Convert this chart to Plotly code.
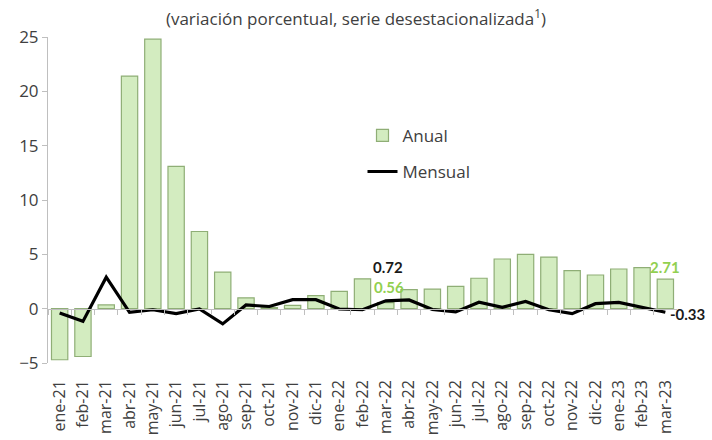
import plotly.graph_objects as go

months = ["ene-21", "feb-21", "mar-21", "abr-21", "may-21", "jun-21", "jul-21",
          "ago-21", "sep-21", "oct-21", "nov-21", "dic-21", "ene-22", "feb-22",
          "mar-22", "abr-22", "may-22", "jun-22", "jul-22", "ago-22", "sep-22",
          "oct-22", "nov-22", "dic-22", "ene-23", "feb-23", "mar-23"]

anual = [-4.7, -4.4, 0.34, 21.4, 24.8, 13.1, 7.1, 3.37, 1.0, 0.1, 0.3, 1.2,
         1.6, 2.75, 0.56, 1.75, 1.8, 2.05, 2.8, 4.57, 5.0, 4.75, 3.5, 3.1,
         3.65, 3.77, 2.71]

mensual = [-0.4, -1.17, 2.9, -0.34, -0.1, -0.46, -0.03, -1.4, 0.34, 0.2, 0.83,
           0.83, -0.03, -0.1, 0.72, 0.8, -0.08, -0.3, 0.6, 0.12, 0.67, -0.1,
           -0.46, 0.46, 0.58, 0.12, -0.33]

y_ticks = [-5, 0, 5, 10, 15, 20, 25]
y_range = [-5, 25]

title_text = "(variación porcentual, serie desestacionalizada<sup>1</sup>)"

FONT = "Open Sans"
LABEL_FONT = "Lato"
GREEN_LABEL = "#92d050"
TEXT = "#404040"

fig = go.Figure()

fig.add_trace(go.Bar(
    x=months, y=anual, name="Anual", legendgroup="a",
    marker=dict(color="#d3ecc0", line=dict(color="#8fae76", width=1.2)),
    width=0.7,
))

fig.add_trace(go.Scatter(
    x=months, y=mensual, name="Mensual", legendgroup="m",
    mode="lines", line=dict(color="black", width=3.2),
    xaxis="x2",
))

zero_pos = (0 - y_range[0]) / (y_range[1] - y_range[0])
x_range = [-0.5, len(months) - 0.5]

fig.update_layout(
    width=712, height=440, autosize=False,
    margin=dict(l=48, r=35, t=37, b=77, autoexpand=False),
    paper_bgcolor="white", plot_bgcolor="white",
    font=dict(family=FONT, color=TEXT),
    title=dict(text=title_text, x=0.5, xref="container", xanchor="center",
               y=1 - 19 / 440, yref="container", yanchor="middle",
               font=dict(size=17, color=TEXT, family=FONT)),
    showlegend=True,
    legend=dict(x=0.50, y=0.752, xanchor="left", yanchor="top",
                font=dict(size=17, color=TEXT), tracegroupgap=11,
                itemwidth=30, bgcolor="rgba(0,0,0,0)"),
    xaxis=dict(type="category", categoryarray=months, categoryorder="array",
               range=x_range, autorange=False,
               showline=False, showgrid=False, zeroline=False, automargin=False,
               ticks="", tickangle=-90, ticklabelstandoff=13,
               tickfont=dict(size=16, color=TEXT)),
    xaxis2=dict(type="category", categoryarray=months, categoryorder="array",
                range=x_range, autorange=False,
                overlaying="x", anchor="free", position=zero_pos,
                automargin=False,
                showline=True, linecolor="#bfbfbf", linewidth=1,
                ticks="outside", tickson="boundaries", ticklen=5,
                tickcolor="#bfbfbf", showticklabels=False, showgrid=False),
    yaxis=dict(range=y_range, tickvals=y_ticks, showline=True, automargin=False,
               linecolor="#bfbfbf", linewidth=1, ticks="outside", ticklen=5,
               tickcolor="#bfbfbf", showgrid=False, zeroline=False,
               tickfont=dict(size=17, color=TEXT)),
)

def label(x, y, text, color, xshift=0, yshift=0, xanchor="center"):
    fig.add_annotation(x=x, y=y, xref="x", yref="y", text="<b>%s</b>" % text,
                       showarrow=False, xshift=xshift, yshift=yshift,
                       xanchor=xanchor,
                       font=dict(size=15, color=color, family=LABEL_FONT))

i_mar22 = months.index("mar-22")
i_last = len(months) - 1
label(months[i_mar22], mensual[i_mar22], "%.2f" % mensual[i_mar22], "#1a1a1a", xshift=2, yshift=34)
label(months[i_mar22], anual[i_mar22], "%.2f" % anual[i_mar22], GREEN_LABEL, xshift=3, yshift=16)
label(months[i_last], anual[i_last], "%.2f" % anual[i_last], GREEN_LABEL, xshift=0, yshift=12)
label(months[i_last], mensual[i_last], "%.2f" % mensual[i_last], "#1a1a1a", xshift=3, yshift=-2, xanchor="left")

fig.write_html("out.html", config={"displayModeBar": False},
               post_script="document.body.style.margin='0';")
